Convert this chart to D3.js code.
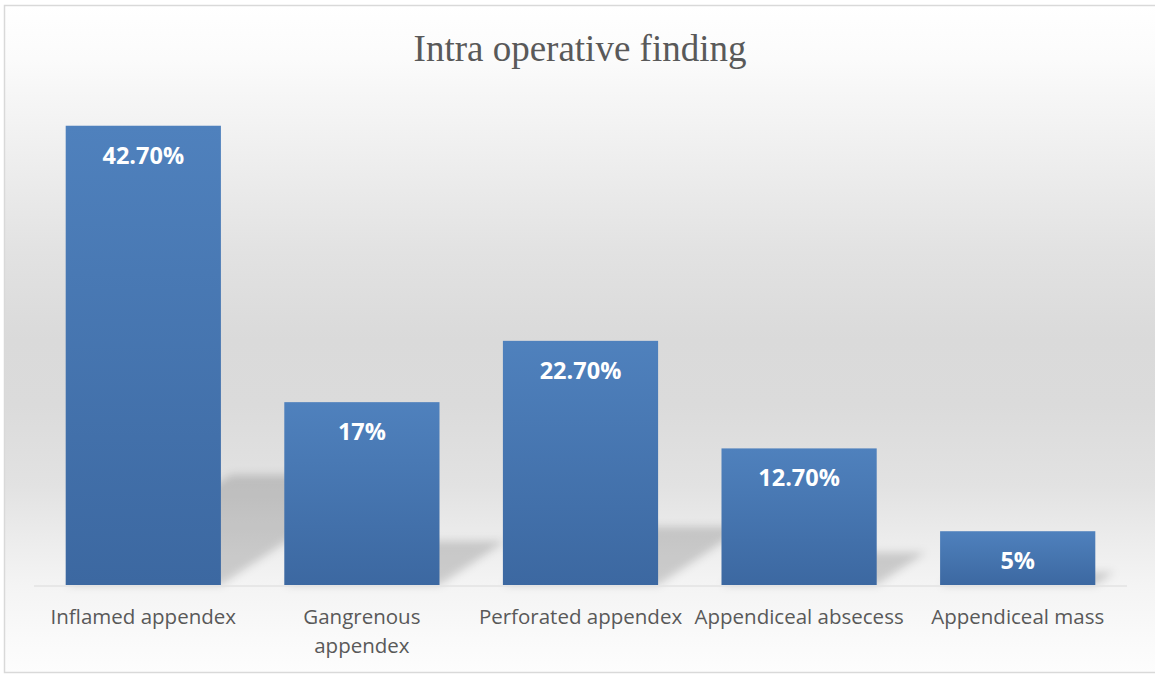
<!DOCTYPE html>
<html>
<head>
<meta charset="utf-8">
<script src="https://cdn.jsdelivr.net/npm/d3@7"></script>
<style>
  html, body { margin: 0; padding: 0; background: #fff; }
</style>
</head>
<body>
<div id="chart"></div>
<script>
const categories = ['Inflamed appendex', 'Gangrenous\nappendex', 'Perforated appendex', 'Appendiceal absecess', 'Appendiceal mass'];
const values = [42.7, 17, 22.7, 12.7, 5];
const valueLabels = ['42.70%', '17%', '22.70%', '12.70%', '5%'];
const title = 'Intra operative finding';

const width = 1155, height = 674;
const plot = { left: 34, right: 1127, top: 101, bottom: 585 };

const svg = d3.select('#chart')
  .append('svg')
  .attr('width', width)
  .attr('height', height);

const defs = svg.append('defs');

// chart area background: white -> grey -> white
const bg = defs.append('linearGradient')
  .attr('id', 'bg').attr('x1', 0).attr('y1', 0).attr('x2', 0).attr('y2', 1);
[[0, '#ffffff'], [0.08, '#fbfbfb'], [0.22, '#efefef'], [0.37, '#e2e2e2'],
 [0.5, '#dadada'], [0.6, '#dbdbdb'], [0.72, '#e2e2e2'], [0.8, '#ececec'],
 [0.87, '#f4f4f4'], [0.95, '#fafafa'], [1, '#fdfdfd']]
  .forEach(([o, c]) => bg.append('stop').attr('offset', o).attr('stop-color', c));

const barGrad = defs.append('linearGradient')
  .attr('id', 'barGrad').attr('x1', 0).attr('y1', 0).attr('x2', 0).attr('y2', 1);
barGrad.append('stop').attr('offset', 0).attr('stop-color', '#4f81bd');
barGrad.append('stop').attr('offset', 1).attr('stop-color', '#3c68a1');

defs.append('filter')
  .attr('id', 'blur')
  .attr('x', '-20%').attr('y', '-20%').attr('width', '140%').attr('height', '140%')
  .append('feGaussianBlur').attr('stdDeviation', 4);

svg.append('rect')
  .attr('x', 4.5).attr('y', 5.5)
  .attr('width', 1160).attr('height', 667)
  .attr('fill', 'url(#bg)')
  .attr('stroke', '#d9d9d9')
  .attr('stroke-width', 1.5);

const x = d3.scaleBand()
  .domain(categories)
  .range([plot.left, plot.right])
  .paddingInner(0.29)
  .paddingOuter(0.145);

const y = d3.scaleLinear()
  .domain([0, 45])
  .range([plot.bottom, plot.top]);

// perspective shadows, skewed up and to the right from the bar base
const skew = 1.5, squash = 0.24;
svg.append('g')
  .attr('filter', 'url(#blur)')
  .selectAll('path')
  .data(values)
  .join('path')
  .attr('fill', '#000')
  .attr('fill-opacity', 0.16)
  .attr('d', (d, i) => {
    const x0 = x(categories[i]), x1 = x0 + x.bandwidth();
    const s = (y(0) - y(d)) * squash;
    const b = y(0);
    return `M${x0},${b}L${x1},${b}L${x1 + skew * s},${b - s}L${x0 + skew * s},${b - s}Z`;
  });

// faint axis line
svg.append('line')
  .attr('x1', plot.left).attr('x2', plot.right)
  .attr('y1', y(0) + 1).attr('y2', y(0) + 1)
  .attr('stroke', '#e3e3e3')
  .attr('stroke-width', 1.5);

svg.append('g')
  .selectAll('rect')
  .data(values)
  .join('rect')
  .attr('x', (d, i) => x(categories[i]))
  .attr('y', d => y(d))
  .attr('width', x.bandwidth())
  .attr('height', d => y(0) - y(d))
  .attr('fill', 'url(#barGrad)');

svg.append('g')
  .selectAll('text')
  .data(values)
  .join('text')
  .attr('x', (d, i) => x(categories[i]) + x.bandwidth() / 2)
  .attr('y', d => y(d) + 38)
  .attr('text-anchor', 'middle')
  .attr('font-family', '"Open Sans", sans-serif')
  .attr('font-weight', 'bold')
  .attr('font-size', 23.5)
  .attr('fill', '#ffffff')
  .text((d, i) => valueLabels[i]);

// category labels
const cat = svg.append('g')
  .selectAll('text')
  .data(categories)
  .join('text')
  .attr('x', d => x(d) + x.bandwidth() / 2)
  .attr('y', 624)
  .attr('text-anchor', 'middle')
  .attr('font-family', '"Open Sans", sans-serif')
  .attr('font-size', 20.5)
  .attr('fill', '#595959');

cat.selectAll('tspan')
  .data(d => d.split('\n').map(t => ({ t, x: x(d) + x.bandwidth() / 2 })))
  .join('tspan')
  .attr('x', d => d.x)
  .attr('dy', (d, i) => i ? 29 : 0)
  .text(d => d.t);

svg.append('text')
  .attr('x', 580)
  .attr('y', 61)
  .attr('text-anchor', 'middle')
  .attr('font-family', '"Liberation Serif", "Times New Roman", serif')
  .attr('font-size', 37)
  .attr('fill', '#595959')
  .text(title);
</script>
</body>
</html>
